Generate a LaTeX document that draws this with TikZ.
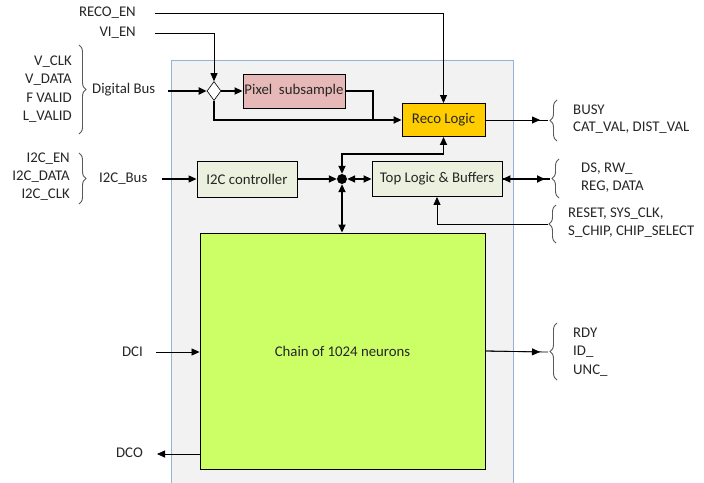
\documentclass[tikz,border=0pt]{standalone}
\usepackage{fontspec}
\setmainfont{Carlito}
\usetikzlibrary{arrows.meta,decorations.pathreplacing,shapes.geometric}

\definecolor{chipgray}{HTML}{F2F2F2}
\definecolor{chipblue}{HTML}{95B3D7}
\definecolor{pixpink}{HTML}{E6B9B8}
\definecolor{recogold}{HTML}{FFCC00}
\definecolor{ctrlgreen}{HTML}{EBF1DE}
\definecolor{chaingreen}{HTML}{CCFF66}

\begin{document}
\begin{tikzpicture}[
            x = 1pt, y = -1pt,
            every node/.style={font=\fontsize{14.8}{17}\selectfont, inner sep=1pt, text=black!85},
            block/.style={draw, line width=0.9pt, inner sep=0pt},
            wire/.style={line width=0.8pt, -{Triangle[length=8pt, width=7pt]}},
            bus/.style={line width=1.8pt, -{Triangle[length=8pt, width=7pt]}},
            twoway/.style={line width=1.8pt, {Triangle[length=8pt, width=7pt]}-{Triangle[length=8pt, width=7pt]}},
            brc/.style={decorate, decoration={brace, amplitude=7pt}, line width=0.9pt, black!65},
            ]

        \useasboundingbox (0, 0) rectangle (704, 482);

        % chip outline
        \draw[chipblue, fill=chipgray, line width=1pt] (171, 60) rectangle (513, 490);

        % blocks
        \node[block, fill=pixpink, minimum width=102pt, minimum height=34pt] (pix) at (294, 91) {Pixel\ \ subsample};
        \node[block, fill=recogold, minimum width=83pt, minimum height=33pt] (reco) at (443.5, 120) {Reco Logic};
        \node[block, fill=ctrlgreen, minimum width=100pt, minimum height=36pt] (i2c) at (247, 179) {I2C controller};
        \node[block, fill=ctrlgreen, minimum width=130pt, minimum height=35pt] (top) at (437, 179) {Top Logic \& Buffers};
        \node[block, fill=chaingreen, minimum width=285pt, minimum height=236pt] (chain) at (342.5, 351) {Chain of 1024 neurons};
        \node[diamond, draw, fill=white, line width=0.6pt, minimum width=14pt, minimum height=19pt, inner sep=0pt] (mux) at (214, 91) {};
        \node[circle, fill, inner sep=0pt, minimum size=10pt] (hub) at (342, 179) {};

        % enables
        \node[anchor=east] (recoen) at (137, 13) {RECO\_EN};
        \node[anchor=east] (vien) at (137, 33) {VI\_EN};
        \coordinate (recoin) at (155, 13);
        \coordinate (viin) at (155, 33);
        \draw[wire] (recoin) -| (reco.north);
        \draw[wire] (viin) -| (mux.north);

        % digital bus
        \node[anchor=east] (vclk) at (73, 62) {V\_CLK};
        \node[anchor=east] (vdata) at (73, 80) {V\_DATA};
        \node[anchor=east] (fvalid) at (73, 98) {F VALID};
        \node[anchor=east] (lvalid) at (73, 117) {L\_VALID};
        \draw[brc] (79, 45) -- (79, 134);
        \node[anchor=west] (dbus) at (91, 90) {Digital Bus};
        \coordinate (dbusin) at (168, 91);
        \draw[bus] (dbusin) -- (mux.west);
        \draw[bus] (mux.east) -- (pix.west);
        \draw[bus] (mux.south) |- (reco.west);
        \coordinate (merge) at (373, 120);
        \draw[line width=1.8pt] (pix.east) -| (merge);

        % i2c bus
        \node[anchor=east] (i2cen) at (71, 159) {I2C\_EN};
        \node[anchor=east] (i2cdata) at (71, 177) {I2C\_DATA};
        \node[anchor=east] (i2cclk) at (71, 195) {I2C\_CLK};
        \draw[brc] (79, 153) -- (79, 204);
        \node[anchor=west] (i2cbus) at (98, 179) {I2C\_Bus};
        \coordinate (i2cin) at (162, 179);
        \draw[wire, line width=1.2pt] (i2cin) -- (i2c.west);

        % internal bus
        \coordinate (hubup) at (342, 154);
        \draw[bus] (i2c.east) -- (hub.west);
        \draw[twoway] (hub.east) -- (top.west);
        \draw[twoway] (hub.north) -- (hubup) -| (reco.south);
        \draw[twoway] (hub.south) -- (hub.south |- chain.north);

        % reco outputs
        \coordinate (busytip) at (548, 120);
        \draw[line width=0.8pt] (reco.east) -- (busytip);
        \draw[wire] (reco.east) -- (540, 120);
        \draw[brc] (557, 141) -- (557, 100);
        \node[anchor=west] (busy) at (572, 110) {BUSY};
        \node[anchor=west] (catval) at (572, 128) {CAT\_VAL, DIST\_VAL};

        % top logic port
        \coordinate (dstip) at (550, 179);
        \draw[line width=1.8pt] (top.east) -- (dstip);
        \draw[twoway] (top.east) -- (545, 179);
        \draw[brc] (559, 198) -- (559, 159);
        \node[anchor=west] (dsrw) at (580, 169) {DS, RW\_};
        \node[anchor=west] (regdata) at (580, 187) {REG, DATA};

        % system inputs
        \coordinate (resettip) at (548, 224);
        \draw[wire] (resettip) -| (top.south);
        \draw[brc] (556, 243) -- (556, 205);
        \node[anchor=west] (reset) at (567, 214) {RESET, SYS\_CLK,};
        \node[anchor=west] (schip) at (567, 232) {S\_CHIP, CHIP\_SELECT};

        % chain ports
        \node[anchor=east] (dci) at (144, 352) {DCI};
        \coordinate (dciin) at (156, 352);
        \draw[wire] (dciin) -- (dciin -| chain.west);
        \node[anchor=east] (dco) at (144, 453) {DCO};
        \coordinate (dcoout) at (157, 454);
        \draw[wire] (dcoout -| chain.west) -- (dcoout);

        \coordinate (rdytip) at (548, 352);
        \draw[line width=0.8pt] (chain.east) -- (rdytip);
        \draw[wire] (chain.east) -- (540, 352);
        \draw[brc] (557, 380) -- (557, 323);
        \node[anchor=west] (rdy) at (572, 333) {RDY};
        \node[anchor=west] (id) at (572, 352) {ID\_};
        \node[anchor=west] (unc) at (572, 371) {UNC\_};
    \end{tikzpicture}
\end{document}
